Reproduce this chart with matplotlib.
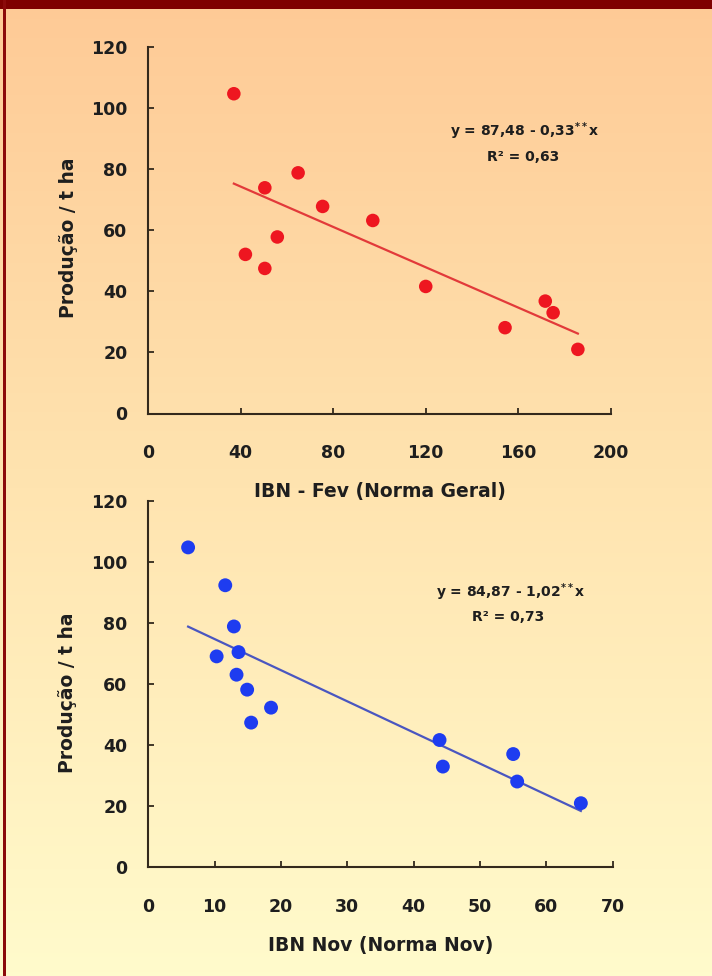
import numpy as np
import matplotlib
matplotlib.use("Agg")
import matplotlib.pyplot as plt
from matplotlib.patches import Rectangle
from matplotlib.colors import LinearSegmentedColormap

plt.rcParams['font.family'] = ['DejaVu Sans']
plt.rcParams['font.weight'] = 'bold'
plt.rcParams['mathtext.fontset'] = 'custom'
plt.rcParams['mathtext.rm'] = 'DejaVu Sans:bold'
plt.rcParams['mathtext.bf'] = 'DejaVu Sans:bold'
plt.rcParams['mathtext.it'] = 'DejaVu Sans:bold'

# ---- data ----
fev_x = [37.0, 50.4, 64.8, 75.4, 97.1, 55.8, 42.0, 50.4, 120.0, 171.7, 175.1, 154.3, 185.8]
fev_y = [104.7, 73.9, 78.8, 67.8, 63.2, 57.8, 52.1, 47.5, 41.6, 36.8, 33.0, 28.1, 21.0]
fev_intercept, fev_slope = 87.48, -0.33
fev_eq = "y = 87,48 - 0,33$^{**}$x"
fev_r2 = "R² = 0,63"

nov_x = [6.0, 11.6, 12.9, 13.6, 10.3, 13.3, 14.9, 18.5, 15.5, 43.9, 44.4, 55.0, 55.6, 65.2]
nov_y = [104.7, 92.3, 78.8, 70.4, 69.0, 63.0, 58.1, 52.2, 47.3, 41.6, 32.9, 37.0, 28.0, 20.9]
nov_intercept, nov_slope = 84.87, -1.02
nov_eq = "y = 84,87 - 1,02$^{**}$x"
nov_r2 = "R² = 0,73"

y_ticks = [0, 20, 40, 60, 80, 100, 120]
fev_xticks = [0, 40, 80, 120, 160, 200]
nov_xticks = [0, 10, 20, 30, 40, 50, 60, 70]
y_label = "Produção / t ha"
fev_xlabel = "IBN - Fev (Norma Geral)"
nov_xlabel = "IBN Nov (Norma Nov)"

W, H = 712, 976
fig = plt.figure(figsize=(W / 100, H / 100), dpi=100)

# background gradient
bg = fig.add_axes([0, 0, 1, 1], zorder=-10)
cmap = LinearSegmentedColormap.from_list("bg", ["#FECA96", "#FFE4B0", "#FFFBCC"])
grad = np.linspace(0, 1, 256).reshape(-1, 1)
bg.imshow(grad, aspect='auto', cmap=cmap, extent=[0, 1, 0, 1], origin='upper')
bg.set_xlim(0, 1)
bg.set_ylim(0, 1)
bg.axis('off')
# frame
bg.add_patch(Rectangle((0, 1 - 9 / H), 1, 9 / H, color='#7F0000', lw=0))
bg.add_patch(Rectangle((3.3 / W, 0), 2.8 / W, 1, color='#8B0A0A', lw=0))

axis_col = '#33291c'
txt_col = '#1e1e1e'


def style(ax, xlim, xticks):
    ax.set_facecolor('none')
    ax.set_xlim(*xlim)
    ax.set_ylim(0, 120)
    ax.set_xticks(xticks)
    ax.set_yticks(y_ticks)
    for s in ['top', 'right']:
        ax.spines[s].set_visible(False)
    for s in ['left', 'bottom']:
        ax.spines[s].set_color(axis_col)
        ax.spines[s].set_linewidth(1.5)
    ax.tick_params(axis='both', direction='in', length=4, width=1.3, color=axis_col,
                   labelsize=12.5, labelcolor=txt_col)
    ax.tick_params(axis='x', pad=22)
    ax.tick_params(axis='y', pad=15)
    for lab in ax.get_xticklabels() + ax.get_yticklabels():
        lab.set_fontweight('bold')
    for sp in ax.spines.values():
        sp.set_clip_on(False)


# top plot
ax1 = fig.add_axes([148.3 / W, (H - 413.5) / H, 462.4 / W, 366.5 / H])
style(ax1, (0, 200), fev_xticks)
xl = np.array([min(fev_x), max(fev_x)])
ax1.plot(xl, fev_intercept + fev_slope * xl, color='#E23A3A', lw=1.6, zorder=2)
ax1.scatter(fev_x, fev_y, s=95, color='#EE1620', edgecolors='none', zorder=3, clip_on=False)
ax1.text(0.815, 0.769, fev_eq, transform=ax1.transAxes, ha='center', va='center',
         fontsize=10, fontweight='bold', color=txt_col)
ax1.text(0.81, 0.70, fev_r2, transform=ax1.transAxes, ha='center', va='center',
         fontsize=10, fontweight='bold', color=txt_col)
ax1.text(0.5, -0.186, fev_xlabel, transform=ax1.transAxes, ha='center', va='top',
         fontsize=13.5, fontweight='bold', color=txt_col)
ax1.text(-0.152, 0.479, y_label, transform=ax1.transAxes, ha='right', va='center',
         rotation=90, fontsize=13.5, fontweight='bold', color=txt_col)

# bottom plot
ax2 = fig.add_axes([148.3 / W, (H - 867) / H, 464.4 / W, 366.3 / H])
style(ax2, (0, 70), nov_xticks)
xl = np.array([min(nov_x), max(nov_x)])
ax2.plot(xl, nov_intercept + nov_slope * xl, color='#4A56C0', lw=1.6, zorder=2)
ax2.scatter(nov_x, nov_y, s=100, color='#1E3CF0', edgecolors='none', zorder=3, clip_on=False)
ax2.text(0.781, 0.749, nov_eq, transform=ax2.transAxes, ha='center', va='center',
         fontsize=10, fontweight='bold', color=txt_col)
ax2.text(0.775, 0.683, nov_r2, transform=ax2.transAxes, ha='center', va='center',
         fontsize=10, fontweight='bold', color=txt_col)
ax2.text(0.5, -0.188, nov_xlabel, transform=ax2.transAxes, ha='center', va='top',
         fontsize=13.5, fontweight='bold', color=txt_col)
ax2.text(-0.154, 0.475, y_label, transform=ax2.transAxes, ha='right', va='center',
         rotation=90, fontsize=13.5, fontweight='bold', color=txt_col)

fig.savefig("out.png", dpi=100)
